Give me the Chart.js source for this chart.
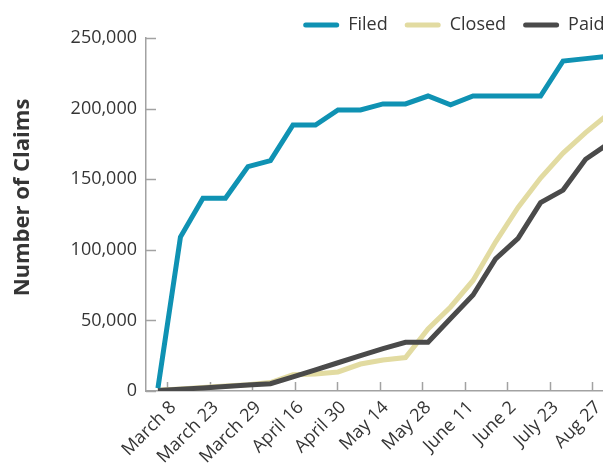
<!DOCTYPE html>
<html>
<head>
<meta charset="utf-8">
<script src="https://cdn.jsdelivr.net/npm/chart.js@4/dist/chart.umd.min.js"></script>
<style>
html, body { margin: 0; padding: 0; overflow: hidden; background: #fff; }
#wrap { width: 620px; height: 468px; }
</style>
</head>
<body>
<div id="wrap"><canvas id="claimsChart" width="620" height="468"></canvas></div>
<script>
// tick labels along the bottom (as printed)
var dateLabels = ['March 8', 'March 23', 'March 29', 'April 16', 'April 30', 'May 14',
    'May 28', 'June 11', 'June 2', 'July 23', 'Aug 27'];

// one value per reporting date (21 points)
var filedClaims = [2000, 109000, 136500, 136500, 158900, 163100, 188400, 188400, 199000, 199000,
    203300, 203300, 208900, 202600, 208900, 208900, 208900, 208900, 233700, 235400, 237000];
var closedClaims = [500, 1500, 2500, 3500, 4500, 6000, 11500, 12000, 13500, 19100,
    22000, 23700, 43900, 59500, 78300, 105500, 130000, 150800, 168500, 183000, 196000];
var paidClaims = [300, 1200, 2200, 3200, 4200, 5200, 10000, 15000, 20000, 25000,
    30000, 34500, 34500, 51300, 68000, 93500, 108100, 133400, 142300, 164100, 175000];

var yMax = 250000;
var yStep = 50000;

var textColor = '#353535';
var axisColor = '#a2a2a2';
var fontFamily = '"Open Sans", "Noto Sans", sans-serif';

function toPoints(arr) {
    return arr.map(function (v, i) { return { x: i, y: v }; });
}

// short tick marks drawn on the inside of both axes
var innerTicks = {
    id: 'innerTicks',
    beforeDatasetsDraw: function (chart) {
        var ctx = chart.ctx;
        var xs = chart.scales.x;
        var ys = chart.scales.y;
        ctx.save();
        ctx.strokeStyle = axisColor;
        ctx.lineWidth = 1.5;
        ctx.beginPath();
        ys.ticks.forEach(function (t, i) {
            var py = Math.round(ys.getPixelForTick(i)) + 0.5;
            ctx.moveTo(ys.right, py);
            ctx.lineTo(ys.right + 10, py);
        });
        xs.ticks.forEach(function (t, i) {
            var px = Math.round(xs.getPixelForTick(i)) + 0.5;
            ctx.moveTo(px, xs.top);
            ctx.lineTo(px, xs.top - 9);
        });
        ctx.stroke();
        ctx.restore();
    }
};

// legend sits flush at the top right (partly cut off like the original),
// y title sits a bit above the middle of the axis
var layoutFix = {
    id: 'layoutFix',
    beforeInit: function (chart) {
        var legend = chart.legend;
        var origFit = legend.fit;
        legend.fit = function () {
            origFit.call(this);
            this.height = 38;
        };
    },
    afterLayout: function (chart) {
        chart.legend.top -= 1;
        chart.legend.right += 8;
        var ys = chart.scales.y;
        if (!ys._titleShifted) {
            var origTitle = ys.drawTitle;
            ys.drawTitle = function () {
                this.ctx.save();
                this.ctx.translate(0, -17);
                origTitle.apply(this, arguments);
                this.ctx.restore();
            };
            ys._titleShifted = true;
        }
    }
};

document.addEventListener('DOMContentLoaded', function () {
    var ctx = document.getElementById('claimsChart').getContext('2d');
    var claimsChart = new Chart(ctx, {
        type: 'line',
        data: {
            labels: dateLabels,
            datasets: [
                {
                    label: 'Filed',
                    data: toPoints(filedClaims),
                    borderColor: '#0f92b3',
                    backgroundColor: '#0f92b3',
                    borderWidth: 5,
                    pointRadius: 0,
                    tension: 0,
                    fill: false,
                    xAxisID: 'xd',
                    order: 0
                },
                {
                    label: 'Closed',
                    data: toPoints(closedClaims),
                    borderColor: '#e2dba1',
                    backgroundColor: '#e2dba1',
                    borderWidth: 5,
                    pointRadius: 0,
                    tension: 0,
                    fill: false,
                    xAxisID: 'xd',
                    order: 2
                },
                {
                    label: 'Paid',
                    data: toPoints(paidClaims),
                    borderColor: '#4a4a4a',
                    backgroundColor: '#4a4a4a',
                    borderWidth: 5,
                    pointRadius: 0,
                    tension: 0,
                    fill: false,
                    xAxisID: 'xd',
                    order: 1
                }
            ]
        },
        options: {
            responsive: false,
            animation: false,
            layout: { padding: { left: 0, right: 6.5, top: 0, bottom: 0 } },
            plugins: {
                tooltip: { enabled: false },
                legend: {
                    position: 'top',
                    align: 'end',
                    labels: {
                        color: textColor,
                        font: { family: fontFamily, size: 18 },
                        boxWidth: 36,
                        boxHeight: 5,
                        padding: 17,
                        useBorderRadius: true,
                        borderRadius: 2.5,
                        sort: function (a, b) { return a.datasetIndex - b.datasetIndex; },
                        generateLabels: function (chart) {
                            var items = Chart.defaults.plugins.legend.labels.generateLabels(chart);
                            items.forEach(function (it) { it.lineWidth = 0; });
                            return items;
                        }
                    }
                }
            },
            scales: {
                x: {
                    type: 'category',
                    offset: true,
                    grid: { display: false, drawTicks: false },
                    border: { display: true, color: axisColor, width: 1.5 },
                    ticks: {
                        color: textColor,
                        font: { family: fontFamily, size: 18 },
                        autoSkip: false,
                        minRotation: 45,
                        maxRotation: 45,
                        padding: 6,
                        labelOffset: 6
                    },
                    afterFit: function (scale) { scale.height = 77; }
                },
                xd: {
                    type: 'linear',
                    display: false,
                    min: -0.53,
                    max: 20.24
                },
                y: {
                    min: 0,
                    max: yMax,
                    grid: { display: false, drawTicks: false },
                    border: { display: true, color: axisColor, width: 1.5 },
                    ticks: {
                        stepSize: yStep,
                        color: textColor,
                        font: { family: fontFamily, size: 18 },
                        padding: 9,
                        callback: function (v) { return v.toLocaleString('en-US'); }
                    },
                    title: {
                        display: true,
                        text: 'Number of Claims',
                        color: textColor,
                        font: { family: fontFamily, size: 22, weight: 'bold' },
                        padding: { top: 10, bottom: 0 }
                    },
                    afterFit: function (scale) { scale.width = 146; }
                }
            }
        },
        plugins: [innerTicks, layoutFix]
    });
});
</script>
</body>
</html>
